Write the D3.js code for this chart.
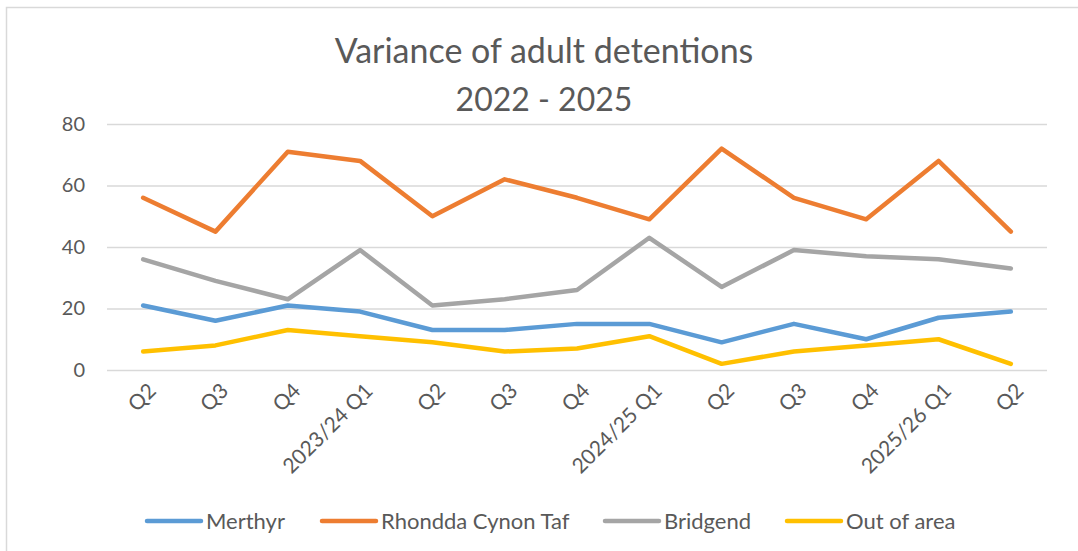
<!DOCTYPE html>
<html>
<head>
<meta charset="utf-8">
<script src="https://cdn.jsdelivr.net/npm/d3@7"></script>
<style>
  body { margin: 0; background: #fff; }
  text { font-family: Lato, "Open Sans", sans-serif; fill: #595959; }
</style>
</head>
<body>
<div id="chart"></div>
<script>
// Chart Size
var width = 1078;
var height = 551;

// Categories (x axis)
var quarters = ["Q2", "Q3", "Q4", "2023/24 Q1", "Q2", "Q3", "Q4", "2024/25 Q1",
  "Q2", "Q3", "Q4", "2025/26 Q1", "Q2"];

// Series Values
var merthyr = [21, 16, 21, 19, 13, 13, 15, 15, 9, 15, 10, 17, 19];
var rct = [56, 45, 71, 68, 50, 62, 56, 49, 72, 56, 49, 68, 45];
var bridgend = [36, 29, 23, 39, 21, 23, 26, 43, 27, 39, 37, 36, 33];
var outOfArea = [6, 8, 13, 11, 9, 6, 7, 11, 2, 6, 8, 10, 2];

var seriesNames = ["Merthyr", "Rhondda Cynon Taf", "Bridgend", "Out of area"];
var yTicks = [0, 20, 40, 60, 80];

var colors = ["#5B9BD5", "#ED7D31", "#A5A5A5", "#FFC000"];
var allSeries = [merthyr, rct, bridgend, outOfArea];

// Plot Area
var plotLeft = 107;
var plotRight = 1047;
var plotTop = 124;
var plotBottom = 370;

var svg = d3.select("#chart")
  .append("svg")
  .attr("width", width)
  .attr("height", height);

// Chart Border
svg.append("rect")
  .attr("x", 6.5)
  .attr("y", 7.5)
  .attr("width", width + 10)
  .attr("height", height + 10)
  .attr("fill", "#fff")
  .attr("stroke", "#d9d9d9")
  .attr("stroke-width", 1.5);

// Title
svg.append("text")
  .attr("x", 544)
  .attr("y", 63)
  .attr("text-anchor", "middle")
  .attr("font-size", "34px")
  .text("Variance of adult detentions");

svg.append("text")
  .attr("x", 544)
  .attr("y", 111)
  .attr("text-anchor", "middle")
  .attr("font-size", "32px")
  .text("2022 - 2025");

// Scales
var xScale = d3.scaleBand()
  .domain(d3.range(quarters.length))
  .range([plotLeft, plotRight]);

var yScale = d3.scaleLinear()
  .domain([0, 80])
  .range([plotBottom, plotTop]);

// Gridlines & Y Axis
var yAxis = d3.axisLeft(yScale)
  .tickValues(yTicks)
  .tickSize(-(plotRight - plotLeft))
  .tickPadding(22);

var yG = svg.append("g")
  .attr("transform", "translate(" + plotLeft + ",0)")
  .call(yAxis);
yG.select(".domain").remove();
yG.selectAll("line").attr("stroke", "#d9d9d9").attr("stroke-width", 1.5);
yG.selectAll("text")
  .attr("font-size", "20px")
  .attr("fill", "#595959")
  .attr("font-family", "Lato, sans-serif");

// X Axis
var xAxis = d3.axisBottom(xScale)
  .tickFormat(function(i) { return quarters[i]; })
  .tickSize(0);

var xG = svg.append("g")
  .attr("transform", "translate(0," + plotBottom + ")")
  .call(xAxis);
xG.select(".domain").remove();
xG.selectAll("text")
  .attr("font-size", "21px")
  .attr("fill", "#595959")
  .attr("font-family", "Lato, sans-serif")
  .attr("text-anchor", "end")
  .attr("dy", 0)
  .attr("transform", "translate(12,20) rotate(-45)");

// Lines
var line = d3.line()
  .x(function(d, i) { return xScale(i) + xScale.bandwidth() / 2; })
  .y(function(d) { return yScale(d); });

allSeries.forEach(function(s, k) {
  svg.append("path")
    .datum(s)
    .attr("d", line)
    .attr("fill", "none")
    .attr("stroke", colors[k])
    .attr("stroke-width", 4.5)
    .attr("stroke-linejoin", "round")
    .attr("stroke-linecap", "round");
});

// Legend
var legendX = [147, 322, 605, 787];
var legend = svg.append("g");
seriesNames.forEach(function(name, k) {
  legend.append("line")
    .attr("x1", legendX[k])
    .attr("x2", legendX[k] + 54)
    .attr("y1", 521)
    .attr("y2", 521)
    .attr("stroke", colors[k])
    .attr("stroke-width", 4.5)
    .attr("stroke-linecap", "round");
  legend.append("text")
    .attr("x", legendX[k] + 59)
    .attr("y", 529)
    .attr("font-size", "22px")
    .text(name);
});
</script>
</body>
</html>
